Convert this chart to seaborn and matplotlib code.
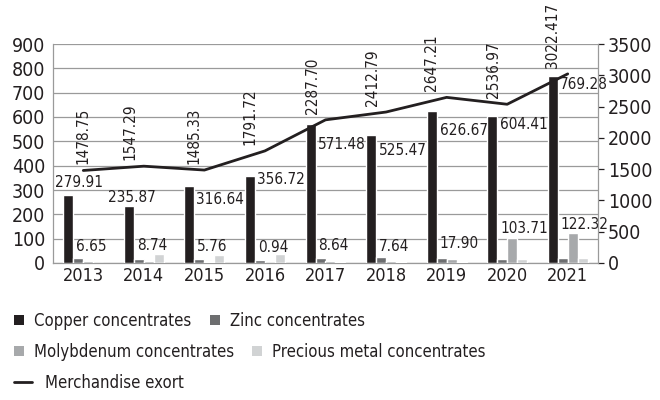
import numpy as np
import pandas as pd
import matplotlib
matplotlib.use("Agg")
import matplotlib.pyplot as plt
from matplotlib.patches import Patch
from matplotlib.lines import Line2D
import seaborn as sns

# ---------------- data ----------------
years = ["2013", "2014", "2015", "2016", "2017", "2018", "2019", "2020", "2021"]
copper = [279.91, 235.87, 316.64, 356.72, 571.48, 525.47, 626.67, 604.41, 769.28]
zinc = [20, 16, 16, 12, 20, 25, 20, 16, 20]
molybdenum = [6.65, 8.74, 5.76, 0.94, 8.64, 7.64, 17.90, 103.71, 122.32]
precious = [1, 37, 33, 37, 6, 5, 5, 16, 20]
export = [1478.75, 1547.29, 1485.33, 1791.72, 2287.70, 2412.79, 2647.21, 2536.97, 3022.417]

copper_labels = ["279.91", "235.87", "316.64", "356.72", "571.48", "525.47", "626.67", "604.41", "769.28"]
moly_labels = ["6.65", "8.74", "5.76", "0.94", "8.64", "7.64", "17.90", "103.71", "122.32"]
export_labels = ["1478.75", "1547.29", "1485.33", "1791.72", "2287.70", "2412.79", "2647.21", "2536.97", "3022.417"]

series_names = ["Copper concentrates", "Zinc concentrates",
                "Molybdenum concentrates", "Precious metal concentrates"]
line_name = "Merchandise exort"
left_ticks = [0, 100, 200, 300, 400, 500, 600, 700, 800, 900]
right_ticks = [0, 500, 1000, 1500, 2000, 2500, 3000, 3500]

# ---------------- style ----------------
colors = ["#231f20", "#6d6e70", "#a7a9ab", "#d1d3d4"]
line_color = "#231f20"
text_color = "#231f20"
grid_color = "#9a9a9a"

sns.set_style("white")
plt.rcParams["font.family"] = ["DejaVu Sans"]
plt.rcParams["font.stretch"] = "condensed"
plt.rcParams["text.color"] = text_color
plt.rcParams["xtick.color"] = text_color
plt.rcParams["ytick.color"] = text_color

df = pd.DataFrame({
    "Year": years * 4,
    "Series": sum([[s] * len(years) for s in series_names], []),
    "Value": copper + zinc + molybdenum + precious,
})

fig = plt.figure(figsize=(6.6, 4.0), dpi=100)
ax = fig.add_axes([53 / 660, 1 - 263 / 400, (598 - 53) / 660, (263 - 44) / 400])

sns.barplot(data=df, x="Year", y="Value", hue="Series", hue_order=series_names,
            order=years, palette=colors, width=0.66, gap=0, saturation=1,
            errorbar=None, legend=False, ax=ax, zorder=3)

ax.set_ylim(0, 900)
ax.set_yticks(left_ticks)
ax.set_yticklabels([str(t) for t in left_ticks])
ax.set_xlim(-0.5, len(years) - 0.5)
ax.set_xlabel("")
ax.set_ylabel("")
ax.yaxis.grid(True, color=grid_color, linewidth=0.9, zorder=0)
ax.set_axisbelow(True)
for s in ["top", "right"]:
    ax.spines[s].set_visible(False)
for s in ["left", "bottom"]:
    ax.spines[s].set_color(grid_color)
    ax.spines[s].set_linewidth(0.9)
ax.tick_params(axis="y", length=0, pad=5.5, labelsize=14)
ax.tick_params(axis="x", length=0, pad=3, labelsize=13)

# ---- secondary axis with the line ----
ax2 = ax.twinx()
sns.lineplot(x=np.arange(len(years)), y=export, color=line_color, linewidth=2.0,
             ax=ax2, legend=False)
ax2.set_ylim(0, 3500)
ax2.set_yticks(right_ticks)
ax2.set_yticklabels([str(t) for t in right_ticks])
ax2.set_xlim(-0.5, len(years) - 0.5)
for s in ["top", "left", "bottom"]:
    ax2.spines[s].set_visible(False)
ax2.spines["right"].set_color(grid_color)
ax2.spines["right"].set_linewidth(0.9)
ax2.tick_params(axis="y", length=4, width=0.9, color=text_color, pad=3, labelsize=14)

# ---- data labels ----
px = 0.72  # pixel -> point at 100 dpi
copper_bars = list(ax.containers[0])
moly_bars = list(ax.containers[2])

copper_dx = [-18, -26, 2, 2, 2, 3, 3, 3, 2]
copper_dy = [12, 8.5, -14, -3, -21, -15, -20, -9, -9]
for bar, lab, dx, dy in zip(copper_bars, copper_labels, copper_dx, copper_dy):
    ax.annotate(lab, xy=(bar.get_x() + bar.get_width(), bar.get_height()),
                xytext=(dx * px, dy * px), textcoords="offset points",
                ha="left", va="center", fontsize=11, zorder=5)

moly_dy = [15, 15, 15, 15, 15, 15, 15, 9, 9]
for cbar, mbar, lab, dy in zip(copper_bars, moly_bars, moly_labels, moly_dy):
    ax.annotate(lab, xy=(cbar.get_x() + cbar.get_width(), mbar.get_height()),
                xytext=(3 * px, dy * px), textcoords="offset points",
                ha="left", va="center", fontsize=11, zorder=5)

export_dx = [0, -14, -10, -15, -13, -14, -15, -13.5, -15]
for i, (val, lab, dx) in enumerate(zip(export, export_labels, export_dx)):
    ax2.annotate(lab, xy=(i, val), xytext=(dx * px, 6 * px), textcoords="offset points",
                 ha="center", va="bottom", rotation=90, fontsize=11)

# ---- legends ----
sq = [Patch(facecolor=c, edgecolor="none") for c in colors]
common = dict(frameon=False, borderpad=0, borderaxespad=0, fontsize=12,
              handlelength=0.6, handleheight=0.6, handletextpad=0.6,
              columnspacing=1.1, ncol=2, loc="center left")
leg1 = fig.legend(sq[:2], series_names[:2], bbox_to_anchor=(14 / 660, 1 - 321 / 400), **common)
leg2 = fig.legend(sq[2:], series_names[2:], bbox_to_anchor=(14 / 660, 1 - 352 / 400), **common)
leg3 = fig.legend([Line2D([0], [0], color=line_color, linewidth=2.0)], [line_name],
                  frameon=False, borderpad=0, borderaxespad=0, fontsize=12,
                  handlelength=1.05, handletextpad=0.8, loc="center left",
                  bbox_to_anchor=(14 / 660, 1 - 383 / 400))

fig.savefig("out.png", dpi=100)
